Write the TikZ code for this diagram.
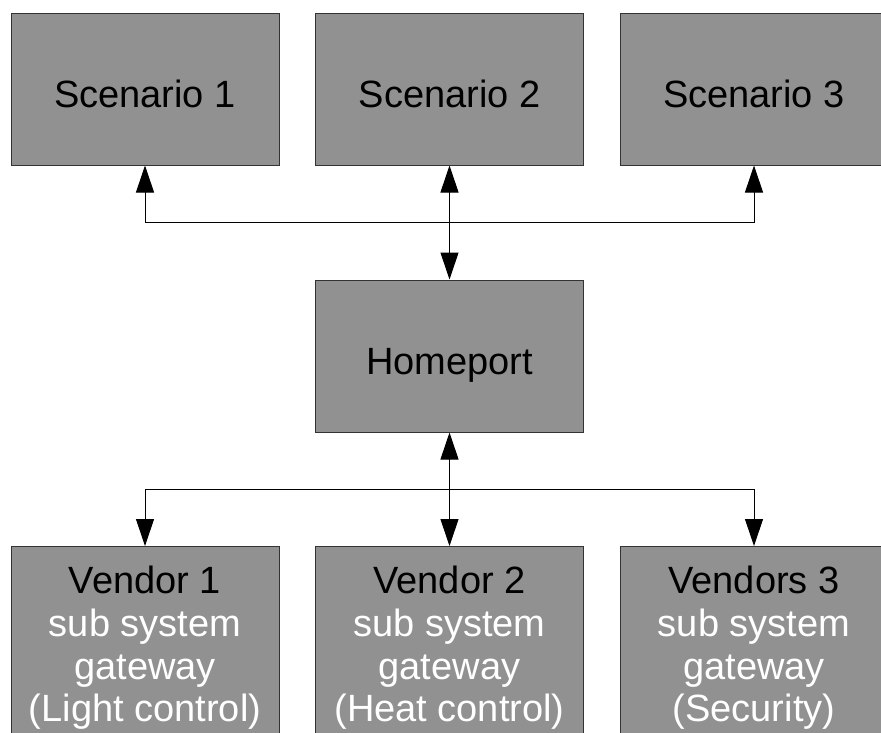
\documentclass[tikz,border=0pt]{standalone}
\usepackage{fontspec}
\setmainfont{Liberation Sans}
\usetikzlibrary{arrows.meta}
\definecolor{boxfill}{HTML}{919191}
\definecolor{boxline}{HTML}{333333}
\tikzset{
  box/.style={draw=boxline, fill=boxfill, line width=1pt, minimum width=268pt, minimum height=152pt, inner sep=0pt, text height=40pt, text depth=4pt, font=\fontsize{38}{42.7}\selectfont},
  tallbox/.style={box, minimum height=230pt, anchor=north},
  boxtext/.style={anchor=north, align=center, inner sep=0pt, font=\fontsize{38}{42.7}\selectfont},
  conn/.style={line width=1pt, draw=black, -{Triangle[length=27pt,width=18pt]}},
  conn2/.style={line width=1pt, draw=black, {Triangle[length=27pt,width=18pt]}-{Triangle[length=27pt,width=18pt]}}
}
\begin{document}
\begin{tikzpicture}[x=1pt,y=-1pt]
\useasboundingbox (0,0) rectangle (881,732);
\clip (0,0) rectangle (881,732);
\fill[white] (0,0) rectangle (881,732);
% top boxes
\node[box] (s1) at (145,89) {Scenario 1};
\node[box] (s2) at (449.5,89) {Scenario 2};
\node[box] (s3) at (754,89) {Scenario 3};
% homeport
\node[box] (hp) at (449.5,356) {Homeport};
% bottom boxes
\node[tallbox] (v1) at (145,546) {};
\node[tallbox] (v2) at (449.5,546) {};
\node[tallbox] (v3) at (754,546) {};
\node[boxtext] (v1t) at (145,566) {Vendor 1\\\color{white}sub system\\\color{white}gateway\\\color{white}(Light control)};
\node[boxtext] (v2t) at (449.5,566) {Vendor 2\\\color{white}sub system\\\color{white}gateway\\\color{white}(Heat control)};
\node[boxtext] (v3t) at (754,566) {Vendors 3\\\color{white}sub system\\\color{white}gateway\\\color{white}(Security)};
% junctions
\coordinate (tj) at (449.5,222);
\coordinate (bj) at (449.5,489);
% top connectors
\draw[conn2] (s2.south) -- (hp.north);
\draw[conn] (tj) -| (s1.south);
\draw[conn] (tj) -| (s3.south);
% bottom connectors
\draw[conn2] (hp.south) -- (v2.north);
\draw[conn] (bj) -| (v1.north);
\draw[conn] (bj) -| (v3.north);
\end{tikzpicture}
\end{document}
